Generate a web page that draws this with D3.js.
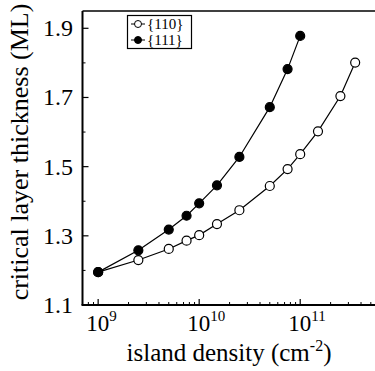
<!DOCTYPE html>
<html>
<head>
<style>
body { margin: 0; background: #fff; }
text { font-family: "Liberation Serif", "DejaVu Serif", serif; fill: #000; }
.series path { fill: none; stroke: #000; stroke-width: 1.2; }
</style>
<script src="https://cdn.jsdelivr.net/npm/d3@7/dist/d3.min.js"></script>
</head>
<body>
<div id="chart"></div>
<script>
var density110 = [1e9, 2.5e9, 5e9, 7.5e9, 1e10, 1.5e10, 2.5e10, 5e10, 7.5e10, 1e11, 1.5e11, 2.5e11, 3.5e11];
var thick110 = [1.195, 1.230, 1.262, 1.286, 1.302, 1.334, 1.374, 1.444, 1.493, 1.536, 1.602, 1.704, 1.801];
var density111 = [1e9, 2.5e9, 5e9, 7.5e9, 1e10, 1.5e10, 2.5e10, 5e10, 7.5e10, 1e11];
var thick111 = [1.195, 1.258, 1.318, 1.358, 1.394, 1.446, 1.528, 1.672, 1.782, 1.878];
var yTicks = [1.1, 1.3, 1.5, 1.7, 1.9];
var yMinor = [1.2, 1.4, 1.6, 1.8];
var xTicks = [1e9, 1e10, 1e11];
var xExp = ["9", "10", "11"];
var legendLabels = ["{110}", "{111}"];

(function() {
    var width = 375, height = 371;
    var margins = { top: 11, right: 0, bottom: 66, left: 82.5 };

    var svg = d3.select("#chart").append("svg")
        .attr("width", width)
        .attr("height", height);

    var x = d3.scaleLog()
        .domain([7.0e8, 5.5e11])
        .range([margins.left, width - margins.right]);
    var y = d3.scaleLinear()
        .domain([1.1, 1.95])
        .range([height - margins.bottom, margins.top]);

    var bottom = height - margins.bottom;

    // top frame line (no right border in the original)
    svg.append("line")
        .attr("x1", margins.left).attr("x2", width)
        .attr("y1", margins.top).attr("y2", margins.top)
        .attr("stroke", "#000").attr("stroke-width", 1.5);

    // minor x ticks, 2..9 per decade
    var minor = [];
    for (var e = 8; e <= 11; e++) {
        for (var m = 2; m <= 9; m++) {
            var v = m * Math.pow(10, e);
            if (v >= x.domain()[0] && v <= x.domain()[1]) minor.push(v);
        }
    }
    svg.append("g").selectAll("line").data(minor).enter().append("line")
        .attr("x1", function(d) { return x(d); })
        .attr("x2", function(d) { return x(d); })
        .attr("y1", bottom).attr("y2", bottom - 3)
        .attr("stroke", "#000").attr("stroke-width", 1);

    svg.append("g").selectAll("line").data(xTicks).enter().append("line")
        .attr("x1", function(d) { return x(d); })
        .attr("x2", function(d) { return x(d); })
        .attr("y1", bottom).attr("y2", bottom - 6)
        .attr("stroke", "#000").attr("stroke-width", 1.2);

    var xl = svg.append("g").selectAll("text").data(xTicks).enter().append("text")
        .attr("x", function(d) { return x(d) - 12; })
        .attr("y", 331)
        .attr("font-size", "23px");
    xl.append("tspan").text("10");
    xl.append("tspan")
        .attr("dy", -10)
        .attr("font-size", "15px")
        .text(function(d, i) { return xExp[i]; });

    // y ticks, pointing inward
    svg.append("g").selectAll("line").data(yTicks).enter().append("line")
        .attr("x1", margins.left).attr("x2", margins.left + 6)
        .attr("y1", function(d) { return y(d); })
        .attr("y2", function(d) { return y(d); })
        .attr("stroke", "#000").attr("stroke-width", 1.2);
    svg.append("g").selectAll("line").data(yMinor).enter().append("line")
        .attr("x1", margins.left).attr("x2", margins.left + 3)
        .attr("y1", function(d) { return y(d); })
        .attr("y2", function(d) { return y(d); })
        .attr("stroke", "#000").attr("stroke-width", 1);
    svg.append("g").selectAll("text").data(yTicks).enter().append("text")
        .attr("x", 73)
        .attr("y", function(d) { return y(d) + 8; })
        .attr("text-anchor", "end")
        .attr("font-size", "24px")
        .text(function(d) { return d.toFixed(1); });

    svg.append("line")
        .attr("x1", margins.left).attr("x2", margins.left)
        .attr("y1", margins.top).attr("y2", bottom)
        .attr("stroke", "#000").attr("stroke-width", 2);
    svg.append("line")
        .attr("x1", margins.left - 1).attr("x2", width)
        .attr("y1", bottom).attr("y2", bottom)
        .attr("stroke", "#000").attr("stroke-width", 2);

    // axis titles
    var xt = svg.append("text")
        .attr("x", 229)
        .attr("y", 361)
        .attr("text-anchor", "middle")
        .attr("font-size", "25px");
    xt.append("tspan").text("island density (cm");
    xt.append("tspan").attr("dy", -10).attr("font-size", "16px").text("-2");
    xt.append("tspan").attr("dy", 10).text(")");

    svg.append("text")
        .attr("transform", "translate(28,152) rotate(-90)")
        .attr("text-anchor", "middle")
        .attr("font-size", "26px")
        .text("critical layer thickness (ML)");

    // series
    var line = d3.line()
        .x(function(d) { return x(d[0]); })
        .y(function(d) { return y(d[1]); });

    var series = [
        { pts: d3.zip(density110, thick110), fill: "#fff" },
        { pts: d3.zip(density111, thick111), fill: "#000" }
    ];
    series.forEach(function(s) {
        var g = svg.append("g").attr("class", "series");
        g.append("path").attr("d", line(s.pts));
        g.selectAll("circle").data(s.pts).enter().append("circle")
            .attr("cx", function(d) { return x(d[0]); })
            .attr("cy", function(d) { return y(d[1]); })
            .attr("r", 4.5)
            .attr("fill", s.fill)
            .attr("stroke", "#000")
            .attr("stroke-width", 1.2);
    });

    // legend
    var lg = svg.append("g");
    lg.append("rect")
        .attr("x", 127.5).attr("y", 15.5)
        .attr("width", 64).attr("height", 33)
        .attr("fill", "#fff").attr("stroke", "#000").attr("stroke-width", 1.2);
    legendLabels.forEach(function(lbl, i) {
        var cy = 24 + i * 16;
        lg.append("line")
            .attr("x1", 131).attr("x2", 145)
            .attr("y1", cy).attr("y2", cy)
            .attr("stroke", "#000");
        lg.append("circle")
            .attr("cx", 138).attr("cy", cy).attr("r", 3.5)
            .attr("fill", i === 0 ? "#fff" : "#000")
            .attr("stroke", "#000");
        lg.append("text")
            .attr("x", 147).attr("y", cy + 5)
            .attr("font-size", "15px")
            .text(lbl);
    });
})();
</script>
</body>
</html>
